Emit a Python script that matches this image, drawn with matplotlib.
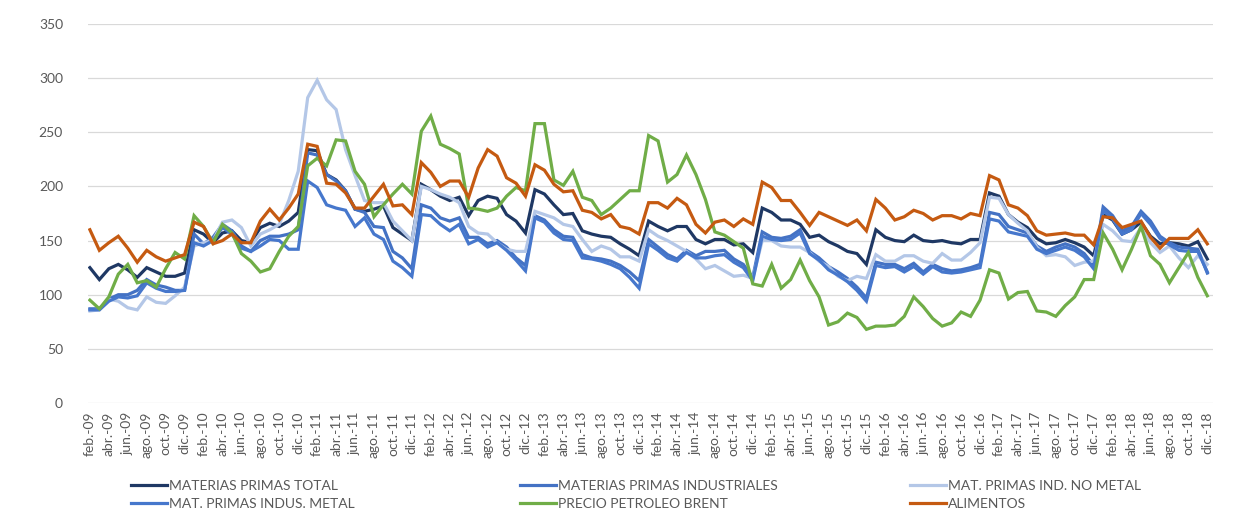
import matplotlib
matplotlib.use("Agg")
import matplotlib.pyplot as plt
import numpy as np

plt.rcParams['font.family'] = ['Lato', 'DejaVu Sans']

# === datos mensuales feb-09 .. dic-18 (indice base) ===
meses = ['ene.', 'feb.', 'mar.', 'abr.', 'may.', 'jun.',
         'jul.', 'ago.', 'sep.', 'oct.', 'nov.', 'dic.']

total = [125, 114, 124, 128, 123, 116, 125, 121, 117, 117, 120, 160, 156, 148, 157, 159, 150, 148, 162, 166,
         163, 168, 176, 234, 233, 211, 206, 196, 179, 177, 179, 182, 162, 156, 150, 202, 197, 191, 187, 190,
         173, 187, 191, 189, 174, 168, 157, 197, 193, 183, 174, 175, 159, 156, 154, 153, 147, 142, 136, 168,
         163, 159, 163, 163, 151, 147, 151, 151, 146, 147, 139, 180, 176, 169, 169, 165, 153, 155, 149, 145,
         140, 138, 128, 160, 153, 150, 149, 155, 150, 149, 150, 148, 147, 151, 151, 194, 191, 174, 167, 162,
         152, 147, 148, 151, 148, 144, 136, 174, 169, 156, 160, 167, 154, 147, 148, 147, 145, 149, 133]

industriales = [87, 87, 96, 100, 100, 104, 114, 109, 107, 104, 104, 156, 147, 153, 165, 159, 145, 140, 150, 154,
                154, 156, 160, 231, 229, 211, 205, 196, 179, 176, 163, 162, 140, 134, 124, 183, 180, 171, 168, 171,
                153, 153, 147, 150, 144, 134, 127, 173, 169, 160, 154, 153, 137, 134, 133, 131, 127, 121, 113, 151,
                144, 137, 133, 141, 136, 140, 140, 141, 133, 128, 116, 158, 153, 152, 154, 160, 140, 134, 126, 121,
                115, 107, 97, 130, 128, 128, 124, 129, 121, 128, 124, 122, 123, 125, 128, 176, 174, 163, 160, 157,
                145, 140, 144, 147, 144, 138, 127, 181, 173, 159, 163, 177, 168, 154, 148, 144, 143, 142, 120]

no_metal = [85, 86, 96, 94, 88, 86, 98, 93, 92, 99, 107, 145, 148, 150, 167, 169, 162, 145, 156, 160,
            165, 187, 214, 282, 298, 280, 271, 234, 210, 187, 185, 185, 168, 159, 150, 200, 197, 193, 190, 185,
            163, 157, 156, 148, 142, 140, 140, 177, 174, 171, 165, 163, 151, 140, 145, 142, 135, 135, 131, 160,
            154, 150, 145, 140, 133, 124, 127, 122, 117, 118, 115, 150, 150, 145, 144, 144, 139, 131, 126, 117,
            113, 117, 115, 137, 131, 131, 136, 136, 131, 129, 138, 132, 132, 139, 148, 190, 189, 174, 166, 159,
            144, 136, 137, 135, 127, 130, 131, 165, 159, 150, 149, 162, 148, 139, 145, 134, 125, 136, 128]

metal = [86, 86, 94, 98, 97, 99, 111, 106, 103, 103, 104, 148, 145, 150, 162, 156, 143, 140, 145, 151,
         150, 142, 142, 205, 199, 183, 180, 178, 163, 171, 156, 151, 131, 125, 117, 174, 173, 165, 159, 165,
         147, 151, 144, 148, 141, 132, 122, 171, 167, 157, 151, 150, 134, 133, 131, 128, 124, 116, 106, 147,
         141, 134, 131, 139, 134, 134, 136, 137, 130, 125, 113, 154, 151, 150, 151, 157, 138, 132, 123, 118,
         112, 104, 94, 127, 125, 126, 121, 126, 119, 126, 121, 120, 121, 123, 125, 170, 168, 158, 156, 154,
         142, 138, 141, 144, 141, 135, 124, 178, 170, 156, 160, 175, 165, 152, 146, 141, 140, 140, 121]

brent = [95, 87, 98, 119, 128, 111, 113, 107, 124, 139, 133, 173, 163, 148, 165, 157, 138, 131, 121, 124,
         140, 154, 163, 219, 226, 219, 243, 242, 214, 202, 172, 183, 193, 202, 193, 251, 265, 239, 235, 230,
         180, 179, 177, 180, 191, 199, 196, 258, 258, 206, 201, 214, 190, 187, 174, 180, 188, 196, 196, 247,
         242, 204, 211, 229, 211, 188, 158, 155, 149, 143, 110, 108, 128, 106, 114, 132, 113, 98, 72, 75,
         83, 79, 68, 71, 71, 72, 80, 98, 89, 78, 71, 74, 84, 80, 95, 123, 120, 96, 102, 103,
         85, 84, 80, 90, 98, 114, 114, 157, 142, 123, 142, 163, 136, 128, 111, 125, 139, 116, 99]

alimentos = [160, 141, 148, 154, 143, 130, 141, 135, 131, 134, 137, 167, 163, 147, 150, 156, 148, 148, 168, 179,
             169, 180, 193, 239, 237, 203, 202, 194, 180, 180, 191, 202, 182, 183, 174, 222, 213, 200, 205, 205,
             190, 217, 234, 228, 208, 203, 191, 220, 215, 202, 195, 196, 178, 176, 170, 174, 163, 161, 156, 185,
             185, 180, 189, 183, 165, 157, 167, 169, 163, 170, 165, 204, 199, 187, 187, 176, 164, 176, 172, 168,
             164, 169, 159, 188, 180, 169, 172, 178, 175, 169, 173, 173, 170, 175, 173, 210, 206, 183, 180, 173,
             159, 155, 156, 157, 155, 155, 146, 172, 171, 162, 165, 168, 153, 143, 152, 152, 152, 160, 147]

series = [
    ("MATERIAS PRIMAS TOTAL", total, "#1F3864"),
    ("MATERIAS PRIMAS INDUSTRIALES", industriales, "#4472C4"),
    ("MAT. PRIMAS IND. NO METAL", no_metal, "#B4C7E7"),
    ("MAT. PRIMAS INDUS. METAL", metal, "#4677CC"),
    ("PRECIO PETROLEO BRENT", brent, "#70AD47"),
    ("ALIMENTOS", alimentos, "#C55A11"),
]

# etiquetas: feb-09 en adelante
n = len(total)
etiquetas = []
for k in range(n):
    m = (1 + k) % 12
    a = 9 + (1 + k) // 12
    etiquetas.append(f"{meses[m]}-{a:02d}")

# === figura ===
fig = plt.figure(figsize=(12.39, 5.20), dpi=100)
ax = fig.add_axes([88 / 1239, 1 - 403 / 520, (1213 - 88) / 1239, (403 - 24) / 520])

x = np.arange(n)
lineas = []
for nombre, vals, col in series:
    ln, = ax.plot(x, vals, color=col, lw=2.3, label=nombre, solid_joinstyle='miter')
    lineas.append(ln)

ax.set_ylim(0, 350)
ax.set_xlim(-0.2, 118.6)
ax.set_yticks(range(0, 351, 50))
ax.grid(axis='y', color='#D9D9D9', lw=0.9)
ax.set_axisbelow(True)
for s in ax.spines.values():
    s.set_visible(False)

ax.set_xticks(x[::2])
ax.set_xticklabels(etiquetas[::2], rotation=90, fontsize=10, color='#595959')
ax.tick_params(axis='x', length=0, pad=6)
ax.tick_params(axis='y', length=0, pad=18, labelsize=10, labelcolor='#595959')

# === leyenda en tres columnas ===
cols_x = [131 / 1239, 520 / 1239, 910 / 1239]
for c in range(3):
    hs = [lineas[c], lineas[c + 3]]
    leg = fig.legend(handles=hs, labels=[h.get_label() for h in hs],
                     loc='upper left', bbox_to_anchor=(cols_x[c], 1 - 480 / 520),
                     frameon=False, fontsize=10, handlelength=2.6, handletextpad=0.15,
                     labelspacing=0.45, borderpad=0, borderaxespad=0, labelcolor='#595959')

fig.savefig("out.png", dpi=100)
